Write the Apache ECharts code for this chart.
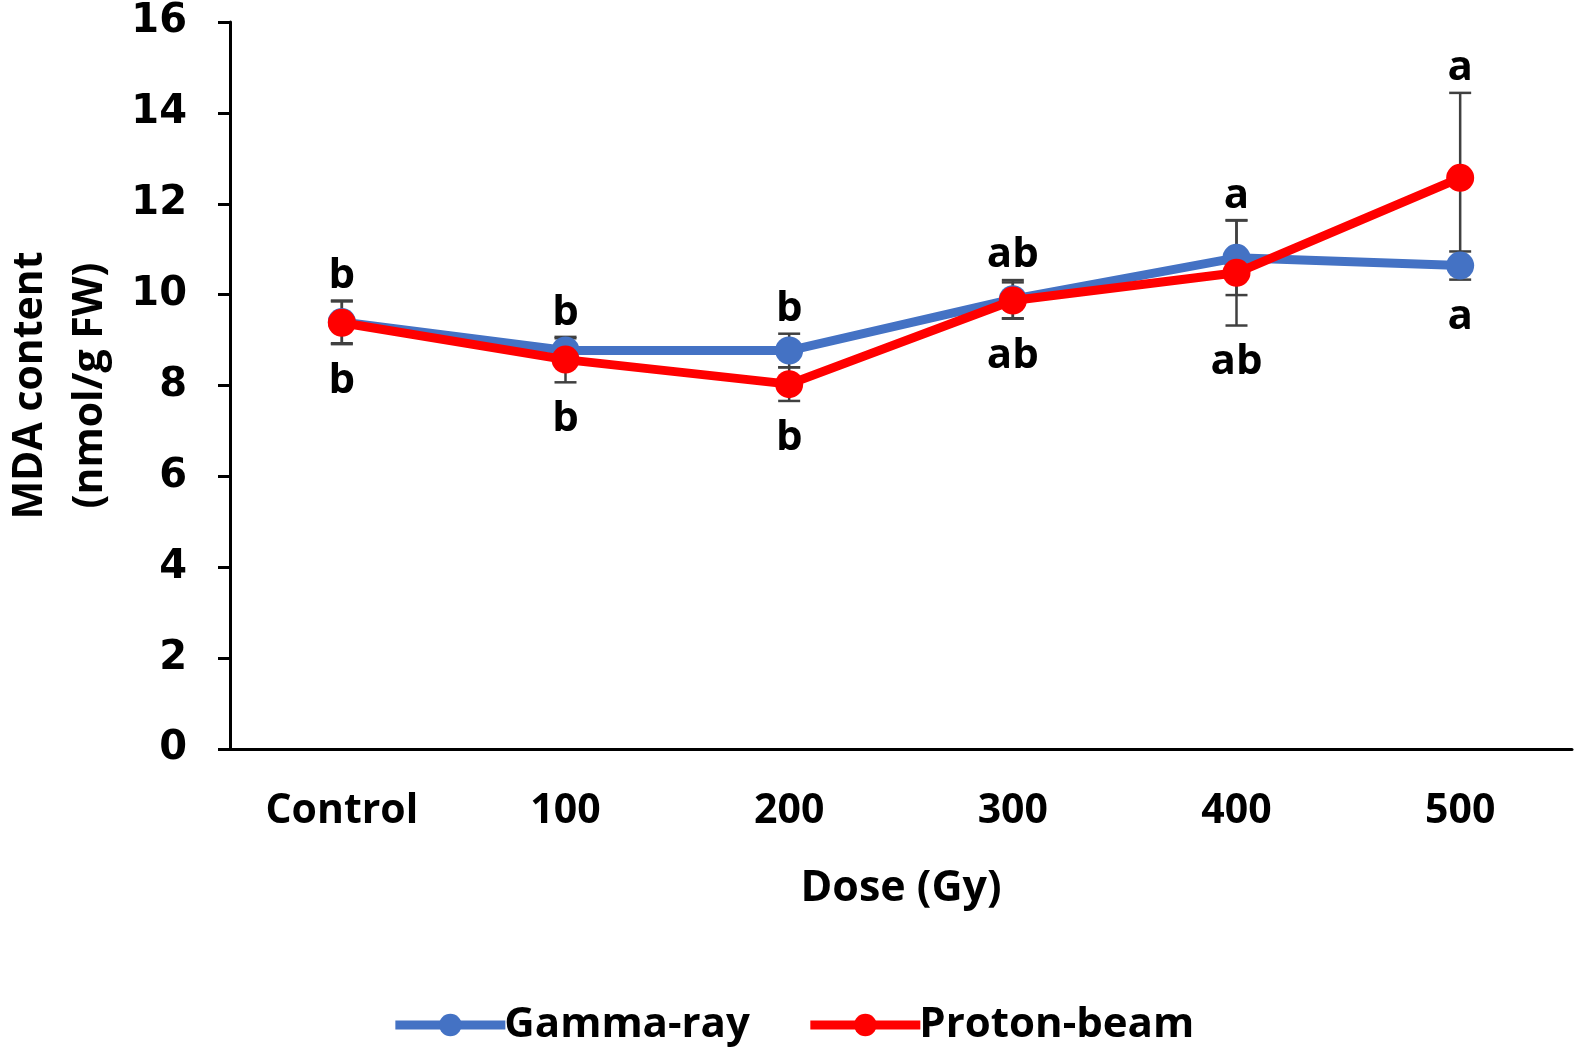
<!DOCTYPE html>
<html>
<head>
<meta charset="utf-8">
<script src="https://cdn.jsdelivr.net/npm/echarts@6/dist/echarts.min.js"></script>
<style>
  html, body { margin: 0; padding: 0; background: #fff; }
  #chart { width: 1585px; height: 1057px; }
</style>
</head>
<body>
<div id="chart"></div>
<script>
  // data
  const categories = ['Control', '100', '200', '300', '400', '500']
  const gammaMean = [9.40, 8.77, 8.77, 9.90, 10.81, 10.64]
  const gammaErr = [0.47, 0.27, 0.37, 0.42, 0.82, 0.31]
  const protonMean = [9.38, 8.57, 8.03, 9.87, 10.48, 12.57]
  const protonErr = [0.47, 0.50, 0.37, 0.40, 1.16, 1.87]
  const gammaLetters = ['b', 'b', 'b', 'ab', 'a', 'a']
  const protonLetters = ['b', 'b', 'b', 'ab', 'ab', 'a']
  const yTicks = [0, 2, 4, 6, 8, 10, 12, 14, 16]

  const BLUE = '#4472C4'
  const RED = '#FF0000'
  const textFont = 'Open Sans'
  const numFont = 'DejaVu Sans'

  const chart = echarts.init(document.getElementById('chart'))

  function errRender(params, api) {
    const x = api.value(0)
    const m = api.value(1)
    const e = api.value(2)
    const top = api.coord([x, m + e])
    const bot = api.coord([x, m - e])
    const w = 11
    const style = { stroke: '#404040', lineWidth: 2.5 }
    return {
      type: 'group',
      children: [
        { type: 'line', shape: { x1: top[0], y1: top[1], x2: bot[0], y2: bot[1] }, style },
        { type: 'line', shape: { x1: top[0] - w, y1: top[1], x2: top[0] + w, y2: top[1] }, style },
        { type: 'line', shape: { x1: bot[0] - w, y1: bot[1], x2: bot[0] + w, y2: bot[1] }, style },
      ],
    }
  }

  // letter goes above the error bar for the higher series, below for the lower one
  function letterData(mean, err, other, letters, above) {
    const out = []
    mean.forEach((m, i) => {
      const isAbove = m >= other[i]
      if (isAbove === above) {
        out.push({ value: [i, above ? m + err[i] : m - err[i]], letter: letters[i] })
      }
    })
    return out
  }

  function letterSeries(data, above) {
    return {
      type: 'scatter',
      symbolSize: 0,
      silent: true,
      z: 5,
      data: data,
      itemStyle: { color: '#000', opacity: 1 },
      label: {
        show: true,
        position: above ? 'top' : 'bottom',
        distance: above ? 4 : 16,
        formatter: (p) => p.data.letter,
        fontFamily: textFont,
        fontWeight: 'bold',
        fontSize: 42,
        color: '#000',
        opacity: 1,
      },
    }
  }

  const option = {
    backgroundColor: '#fff',
    animation: false,
    grid: { left: 230, right: 13, top: 22, bottom: 308, containLabel: false, outerBoundsMode: 'none' },
    legend: {
      data: ['Gamma-ray', 'Proton-beam'],
      bottom: 6,
      left: 'center',
      itemWidth: 110,
      itemHeight: 28,
      itemGap: 56,
      lineStyle: { width: 9 },
      textStyle: { fontFamily: textFont, fontWeight: 'bold', fontSize: 42, color: '#000', padding: [0, 0, 0, -6] },
    },
    xAxis: {
      type: 'category',
      data: categories,
      boundaryGap: true,
      name: 'Dose (Gy)',
      nameLocation: 'middle',
      nameGap: 118,
      nameTextStyle: { fontFamily: textFont, fontWeight: 'bold', fontSize: 43, color: '#000' },
      axisLine: { lineStyle: { color: '#000', width: 3 } },
      axisTick: { show: false },
      axisLabel: { margin: 42, fontFamily: textFont, fontWeight: 'bold', fontSize: 41, color: '#000' },
    },
    yAxis: {
      type: 'value',
      min: yTicks[0],
      max: yTicks[yTicks.length - 1],
      interval: 2,
      name: 'MDA content\n(nmol/g FW)',
      nameLocation: 'middle',
      nameGap: 100,
      nameTextStyle: { fontFamily: textFont, fontWeight: 'bold', fontSize: 41, color: '#000', lineHeight: 60 },
      axisLine: { show: true, lineStyle: { color: '#000', width: 3 } },
      axisTick: { show: true, length: 12, lineStyle: { color: '#000', width: 3 } },
      splitLine: { show: false },
      axisLabel: { margin: 43, fontFamily: numFont, fontWeight: 'bold', fontSize: 40, color: '#000' },
    },
    series: [
      {
        type: 'custom',
        renderItem: errRender,
        z: 1,
        data: gammaMean.map((m, i) => [i, m, gammaErr[i]]),
      },
      {
        type: 'custom',
        renderItem: errRender,
        z: 1,
        data: protonMean.map((m, i) => [i, m, protonErr[i]]),
      },
      {
        name: 'Gamma-ray',
        type: 'line',
        z: 2,
        data: gammaMean,
        symbol: 'circle',
        symbolSize: 28,
        lineStyle: { color: BLUE, width: 9 },
        itemStyle: { color: BLUE },
      },
      {
        name: 'Proton-beam',
        type: 'line',
        z: 3,
        data: protonMean,
        symbol: 'circle',
        symbolSize: 28,
        lineStyle: { color: RED, width: 9 },
        itemStyle: { color: RED },
      },
      letterSeries(letterData(gammaMean, gammaErr, protonMean, gammaLetters, true), true),
      letterSeries(letterData(gammaMean, gammaErr, protonMean, gammaLetters, false), false),
      letterSeries(letterData(protonMean, protonErr, gammaMean, protonLetters, true), true),
      letterSeries(letterData(protonMean, protonErr, gammaMean, protonLetters, false), false),
    ],
  }
  chart.setOption(option)
</script>
</body>
</html>
